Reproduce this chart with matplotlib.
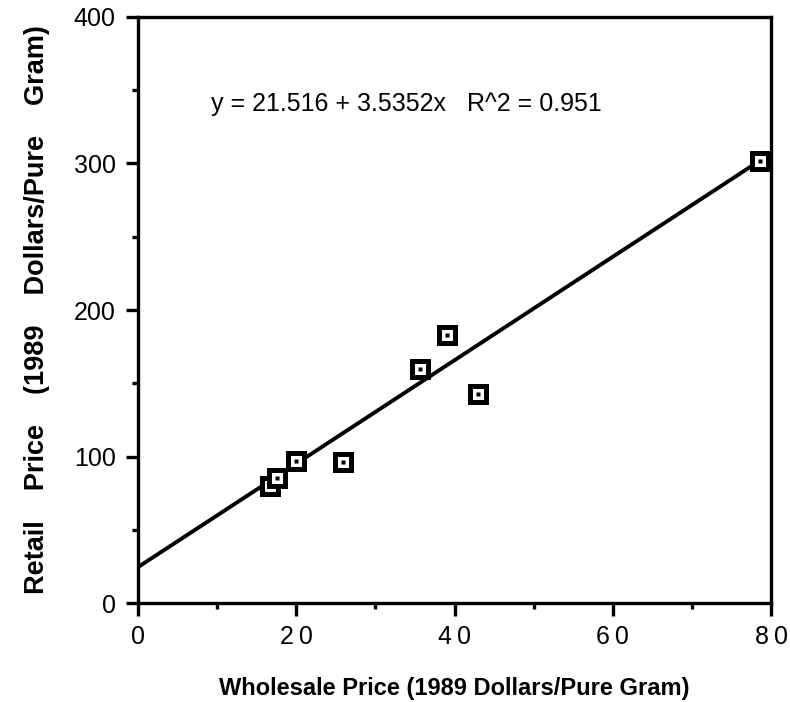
import matplotlib
matplotlib.use('Agg')
import matplotlib.pyplot as plt
from matplotlib.ticker import MultipleLocator

# wholesale vs retail price
wholesale = [16.7, 17.6, 20.0, 25.9, 35.6, 39.1, 43.0, 78.6]
retail = [80, 85, 97, 96, 160, 183, 143, 302]

# drawn fit line ends
fit_x = [0, 78.6]
fit_y = [24.5, 302]

x_ticks = [0, 20, 40, 60, 80]
x_tick_labels = ['0', '2\u20090', '4\u20090', '6\u20090', '8\u20090']
y_ticks = [0, 100, 200, 300, 400]

equation = 'y = 21.516 + 3.5352x   R^2 = 0.951'


def main():
    plt.rcParams['font.family'] = ['Liberation Sans', 'DejaVu Sans']
    fig = plt.figure(figsize=(7.9, 7.02), dpi=100)
    ax = fig.add_axes([0.1747, 0.141, 0.8013, 0.8348])

    ax.plot(fit_x, fit_y, color='black', lw=2.8, solid_capstyle='butt', zorder=2)
    ax.plot(wholesale, retail, ls='none', marker='s', ms=11,
            mfc='white', mec='black', mew=3.6, zorder=3)
    ax.plot(wholesale, retail, ls='none', marker='s', ms=2.5,
            mfc='black', mec='none', zorder=4)

    ax.set_xlim(0, 80)
    ax.set_ylim(0, 400)
    ax.set_xticks(x_ticks)
    ax.set_xticklabels(x_tick_labels)
    ax.set_yticks(y_ticks)
    ax.xaxis.set_minor_locator(MultipleLocator(10))
    ax.yaxis.set_minor_locator(MultipleLocator(50))

    for s in ax.spines.values():
        s.set_linewidth(2.4)
    ax.tick_params(which='major', direction='out', length=9, width=2.4,
                   labelsize=18, pad=7)
    ax.tick_params(which='minor', direction='out', length=4.5, width=2.4)

    ax.text(0.115, 0.84, equation, transform=ax.transAxes, fontsize=18)

    ax.set_xlabel('Wholesale Price (1989 Dollars/Pure Gram)',
                  fontsize=17, fontweight='bold', labelpad=20)
    ax.set_ylabel('Retail    Price    (1989    Dollars/Pure    Gram)',
                  fontsize=19.5, fontweight='bold', labelpad=17)

    fig.savefig('out.png', dpi=100)


if __name__ == '__main__':
    main()
